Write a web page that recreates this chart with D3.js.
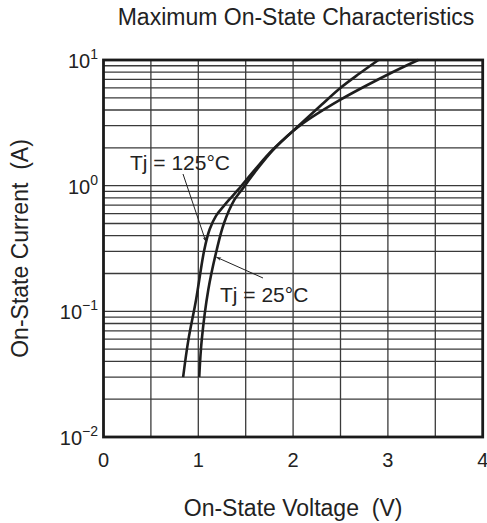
<!DOCTYPE html>
<html>
<head>
<meta charset="utf-8">
<script src="https://cdn.jsdelivr.net/npm/d3@7"></script>
<style>
  html, body { margin: 0; padding: 0; background: #fff; }
  svg { display: block; font-family: "Liberation Sans", Arial, Helvetica, sans-serif; }
  text { white-space: pre; }
</style>
</head>
<body>
<svg id="chart" width="487" height="523"></svg>
<script>
// ---- data ----
const titleText = "Maximum On-State Characteristics";
const xLabel = "On-State Voltage  (V)";
const yLabel = "On-State Current  (A)";
const xTicks = [0, 1, 2, 3, 4];
const xGrid = [0.5, 1, 1.5, 2, 2.5, 3, 3.5];
const yDecades = [-2, -1, 0, 1];
const yTickSup = ["\u22122", "\u22121", "0", "1"];

const tj125V = [0.84, 0.895, 0.976, 1.063, 1.12, 1.19, 1.27, 1.33, 1.42, 1.6, 1.79, 2.07, 2.495, 2.99, 3.32];
const tj125I = [0.03, 0.059, 0.123, 0.308, 0.45, 0.58, 0.69, 0.78, 0.93, 1.35, 1.95, 3.0, 4.81, 7.6, 10];
const tj25V  = [1.01, 1.036, 1.105, 1.194, 1.27, 1.38, 1.46, 1.62, 1.79, 2.07, 2.3, 2.495, 2.70, 2.90];
const tj25I  = [0.03, 0.059, 0.148, 0.308, 0.50, 0.77, 0.93, 1.35, 1.93, 3.05, 4.4, 5.96, 7.8, 10];

const labels = [
  { text: "Tj = 125\u00B0C", tx: 130, ty: 170, from: [183, 174], tipV: 1.08, tipI: 0.358 },
  { text: "Tj = 25\u00B0C",  tx: 220, ty: 302, from: [263, 278], tipV: 1.19, tipI: 0.27 }
];

// ---- layout ----
const svg = d3.select("#chart");
const L = 103.5, T = 60, R = 482.7, B = 437;

const x = d3.scaleLinear().domain([0, 4]).range([L, R]);
const y = d3.scaleLog().domain([0.01, 10]).range([B, T]);

// grid
const g = svg.append("g");
g.selectAll("line.vx").data(xGrid).join("line")
  .attr("x1", d => x(d)).attr("x2", d => x(d))
  .attr("y1", T).attr("y2", B)
  .attr("stroke", "#3a3a3a").attr("stroke-width", 1.3);

const hVals = [];
yDecades.slice(0, 3).forEach(e => {
  for (let k = 1; k <= 9; k++) {
    if (k === 1 && e === -2) continue;
    hVals.push(k * Math.pow(10, e));
  }
});
g.selectAll("line.hy").data(hVals).join("line")
  .attr("x1", L).attr("x2", R)
  .attr("y1", d => y(d)).attr("y2", d => y(d))
  .attr("stroke", "#3a3a3a").attr("stroke-width", 1.3);

// frame
svg.append("rect")
  .attr("x", L).attr("y", T).attr("width", R - L).attr("height", B - T)
  .attr("fill", "none").attr("stroke", "#1a1a1a").attr("stroke-width", 2.8);

// curves
const line = d3.line().x(d => x(d[0])).y(d => y(d[1])).curve(d3.curveCatmullRom.alpha(0.5));
const s125 = tj125V.map((v, i) => [v, tj125I[i]]);
const s25 = tj25V.map((v, i) => [v, tj25I[i]]);
[s125, s25].forEach(s => {
  svg.append("path").datum(s).attr("d", line)
    .attr("fill", "none").attr("stroke", "#1e1e1e").attr("stroke-width", 2.6)
    .attr("stroke-linejoin", "round");
});

// x ticks
svg.selectAll("text.xt").data(xTicks).join("text")
  .attr("x", d => x(d)).attr("y", 467)
  .attr("text-anchor", "middle").attr("font-size", 20).attr("fill", "#222")
  .text(d => d);

// y ticks
yDecades.forEach((e, i) => {
  const t = svg.append("text")
    .attr("x", 98).attr("y", y(Math.pow(10, e)) + 8)
    .attr("text-anchor", "end").attr("font-size", 20).attr("fill", "#222");
  t.append("tspan").text("10");
  t.append("tspan").attr("font-size", 14).attr("dy", -9).text(yTickSup[i]);
});

// titles
svg.append("text").attr("x", 296).attr("y", 25).attr("text-anchor", "middle")
  .attr("font-size", 23).attr("fill", "#222").text(titleText);
svg.append("text").attr("x", (L + R) / 2).attr("y", 516).attr("text-anchor", "middle")
  .attr("font-size", 23).attr("fill", "#222").text(xLabel);
svg.append("text").attr("transform", `translate(28,${(T + B) / 2}) rotate(-90)`)
  .attr("text-anchor", "middle").attr("font-size", 23).attr("fill", "#222").text(yLabel);

// annotations
svg.append("defs").append("marker").attr("id", "arr")
  .attr("viewBox", "0 0 10 10").attr("refX", 10).attr("refY", 5)
  .attr("markerWidth", 9).attr("markerHeight", 5).attr("orient", "auto")
  .attr("markerUnits", "userSpaceOnUse")
  .append("path").attr("d", "M0,1.5 L10,5 L0,8.5 L3,5 Z").attr("fill", "#222");

labels.forEach(a => {
  svg.append("text").attr("x", a.tx).attr("y", a.ty)
    .attr("font-size", 21).attr("fill", "#222").text(a.text);
  svg.append("line")
    .attr("x1", a.from[0]).attr("y1", a.from[1])
    .attr("x2", x(a.tipV)).attr("y2", y(a.tipI))
    .attr("stroke", "#222").attr("stroke-width", 1)
    .attr("marker-end", "url(#arr)");
});
</script>
</body>
</html>
